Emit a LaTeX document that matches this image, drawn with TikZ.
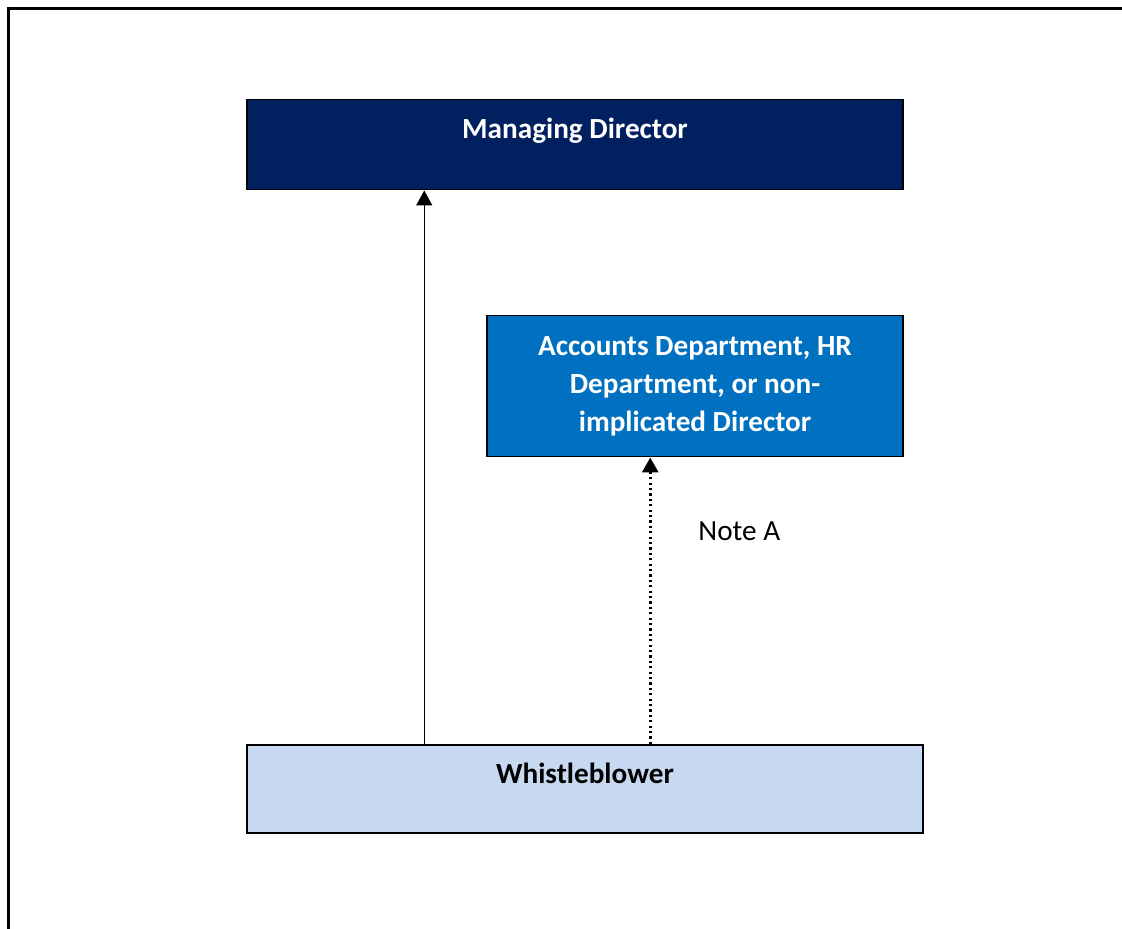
\documentclass[tikz,border=0pt]{standalone}
\usepackage{fontspec}
\setmainfont{Carlito}
\usepackage{xcolor}
\usetikzlibrary{arrows, arrows.meta}
\usetikzlibrary{calc}

\definecolor{mdnavy}{HTML}{002060}
\definecolor{accblue}{HTML}{0070C0}
\definecolor{wblight}{HTML}{C6D9F1}

\tikzset{
  box/.style={draw=black, line width=0.75pt, inner sep=0pt, anchor=north,
    font=\fontsize{14.6}{19}\selectfont\bfseries},
  toptext/.style={text height=19.5pt, text depth=25.5pt},
  arrow/.style={line width=0.75pt, -{Triangle[length=7.5pt, width=8pt]}},
}

\begin{document}
\begin{tikzpicture}[x=0.5pt, y=-0.5pt]
      \useasboundingbox (0,0) rectangle (1122,929);
      \draw[line width=1.5pt] (8.5,929) -- (8.5,8.5) -- (1122,8.5);

      \node[box, toptext, fill=mdnavy, text=white, minimum width=328pt] (md) at (575,99) {Managing Director};
      \node[box, fill=accblue, text=white, minimum width=208pt, minimum height=70.5pt, align=center] (acc) at (695,315) {Accounts Department, HR\\Department, or non-\\implicated Director};
      \node[box, toptext, fill=wblight, text=black, minimum width=338pt, text depth=24.5pt] (wb) at (585,744) {Whistleblower};

      \draw[arrow] ([xshift=89pt]wb.north west) -- ([xshift=89pt]md.south west);
      \draw[arrow, line width=1.5pt, dash pattern=on 1.1pt off 1.6pt] ([xshift=82pt]acc.south west |- wb.north) -- ([xshift=82pt]acc.south west);
      \node[anchor=base west, inner sep=0pt, font=\fontsize{14.6}{19}\selectfont] (noteA) at (698,540) {Note A};
    \end{tikzpicture}
\end{document}
